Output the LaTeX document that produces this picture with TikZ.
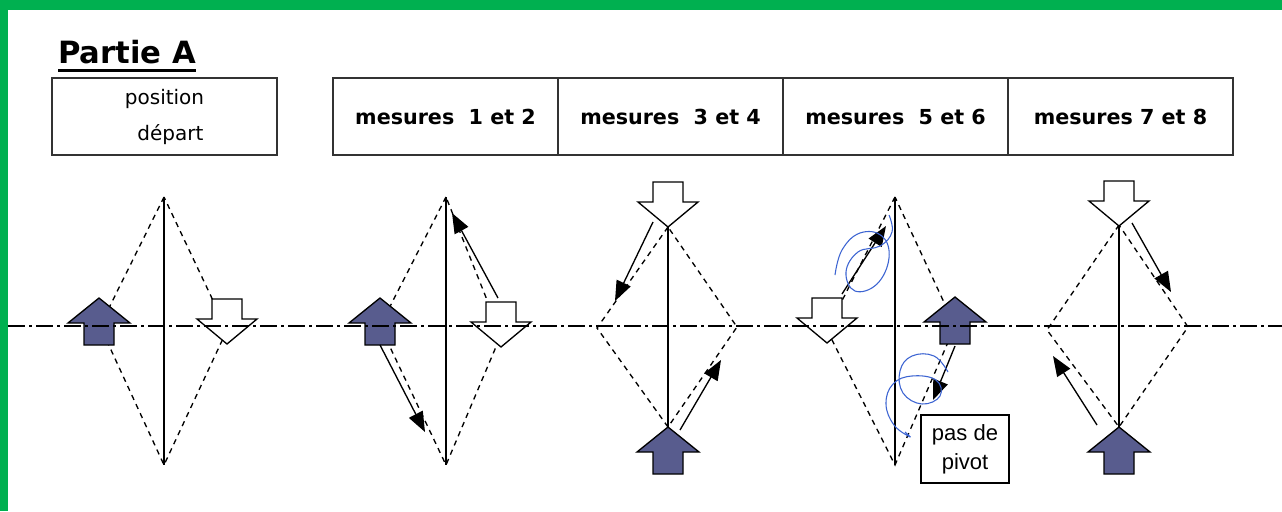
\documentclass[tikz,border=0pt]{standalone}
\usepackage{fontspec}
\setmainfont{DejaVu Sans}
\newfontfamily\pivotfont{Liberation Sans}
\usetikzlibrary{positioning,arrows.meta}

\definecolor{bordergreen}{RGB}{0,176,80}
\definecolor{arrowblue}{RGB}{88,92,142}
\definecolor{scribble}{RGB}{60,100,210}

\tikzset{
  cell/.style={draw=black!80, line width=1.3pt, outer sep=0pt, minimum width=225*0.75pt, minimum height=77*0.75pt, font=\bfseries\fontsize{15.5}{18}\selectfont},
  blockarrow/.style={draw=black, line width=1pt, line join=miter},
  diamedge/.style={dashed, dash pattern=on 4pt off 3.5pt, line width=1pt},
  midline/.style={line width=1pt},
  axis/.style={line width=1.1pt, dash pattern=on 13pt off 3pt on 2pt off 3pt},
  step arrow/.style={line width=1pt, -{Triangle[length=15pt, width=11.5pt]}},
  uparrow/.pic={\draw[blockarrow, fill=arrowblue] (0,0) -- (31,25) -- (15,25) -- (15,47) -- (-15,47) -- (-15,25) -- (-31,25) -- cycle;},
  downarrow/.pic={\draw[blockarrow, fill=white] (-15,0) -- (15,0) -- (15,20) -- (30,20) -- (0,45) -- (-30,20) -- (-15,20) -- cycle;}
}

\begin{document}
\begin{tikzpicture}[x=0.75pt, y=-0.75pt]
\useasboundingbox (0,0) rectangle (1282,511);
\fill[white] (0,0) rectangle (1282,511);
\fill[bordergreen] (0,0) rectangle (1282,10);
\fill[bordergreen] (0,0) rectangle (8,511);

\node[inner sep=0pt, anchor=base west, font=\bfseries\fontsize{23}{26}\selectfont] (title) at (58,63) {Partie A};
\draw[line width=2.2pt] ([yshift=-5.5pt]title.base west) -- ([yshift=-5.5pt]title.base east);

\node[cell, font=\fontsize{15}{27}\selectfont, align=center] (depart) at (164.5,116.5) {position\\\hspace*{0.6em}départ};
\node[cell] (m12) at (445.5,116.5) {mesures~~1 et 2};
\node[cell, right=0pt of m12] (m34) {mesures~~3 et 4};
\node[cell, right=0pt of m34] (m56) {mesures~~5 et 6};
\node[cell, right=0pt of m56] (m78) {mesures 7 et 8};

\coordinate (top1) at (164,197); \coordinate (left1) at (100,326); \coordinate (bot1) at (164,465); \coordinate (right1) at (227,330);
\coordinate (top2) at (446,197); \coordinate (left2) at (380,326); \coordinate (bot2) at (446,465); \coordinate (right2) at (501,335);
\coordinate (top3) at (668,227); \coordinate (left3) at (597,328); \coordinate (bot3) at (668,427); \coordinate (right3) at (737,327);
\coordinate (top4) at (895,197); \coordinate (left4) at (827,330); \coordinate (bot4) at (895,465); \coordinate (right4) at (955,326);
\coordinate (top5) at (1119,225); \coordinate (left5) at (1047,330); \coordinate (bot5) at (1119,427); \coordinate (right5) at (1188,327);

\foreach \i in {1,...,5}{
  \draw[diamedge] (top\i) -- (left\i) -- (bot\i) -- (right\i) -- cycle;
  \draw[midline] (top\i) -- (bot\i);
}

\pic at (99,298) {uparrow};
\pic at (227,299) {downarrow};
\pic at (380,298) {uparrow};
\pic at (501,302) {downarrow};
\pic at (668,427) {uparrow};
\pic at (668,182) {downarrow};
\pic at (955,297) {uparrow};
\pic at (827,298) {downarrow};
\pic at (1119,427) {uparrow};
\pic at (1119,181) {downarrow};

\coordinate (axisL) at (8,326);
\coordinate (axisR) at (1282,326);
\draw[axis] (axisL) -- (axisR);

\coordinate (s2a) at (380,345); \coordinate (e2a) at (425,432);
\coordinate (s2b) at (498,298); \coordinate (e2b) at (452,213);
\coordinate (s3a) at (653,222); \coordinate (e3a) at (615,301);
\coordinate (s3b) at (680,430); \coordinate (e3b) at (721,360);
\coordinate (s4a) at (842,294); \coordinate (e4a) at (886,226);
\coordinate (s4b) at (955,346); \coordinate (e4b) at (933,400);
\coordinate (s5a) at (1132,223); \coordinate (e5a) at (1171,292);
\coordinate (s5b) at (1097,425); \coordinate (e5b) at (1053,356);
\foreach \i in {2,...,5}{
  \draw[step arrow] (s\i a) -- (e\i a);
  \draw[step arrow] (s\i b) -- (e\i b);
}

\draw[scribble, line width=0.8pt] plot[smooth, tension=0.7] coordinates {(835,275) (842,250) (860,233) (882,236) (889,258) (877,284) (855,291) (846,272) (858,252) (880,246) (892,232) (889,215)};
\draw[scribble, line width=0.8pt] plot[smooth, tension=0.7] coordinates {(948,372) (934,356) (912,356) (900,371) (903,393) (922,404) (940,396) (936,380) (912,376) (893,384) (886,404) (894,425) (910,437) (905,432)};

\node[draw, line width=1.1pt, fill=white, minimum width=88*0.75pt, minimum height=68*0.75pt, align=center, font=\pivotfont\fontsize{16.5}{22}\selectfont] (pivot) at (965,449) {pas de\\pivot};
\end{tikzpicture}
\end{document}
